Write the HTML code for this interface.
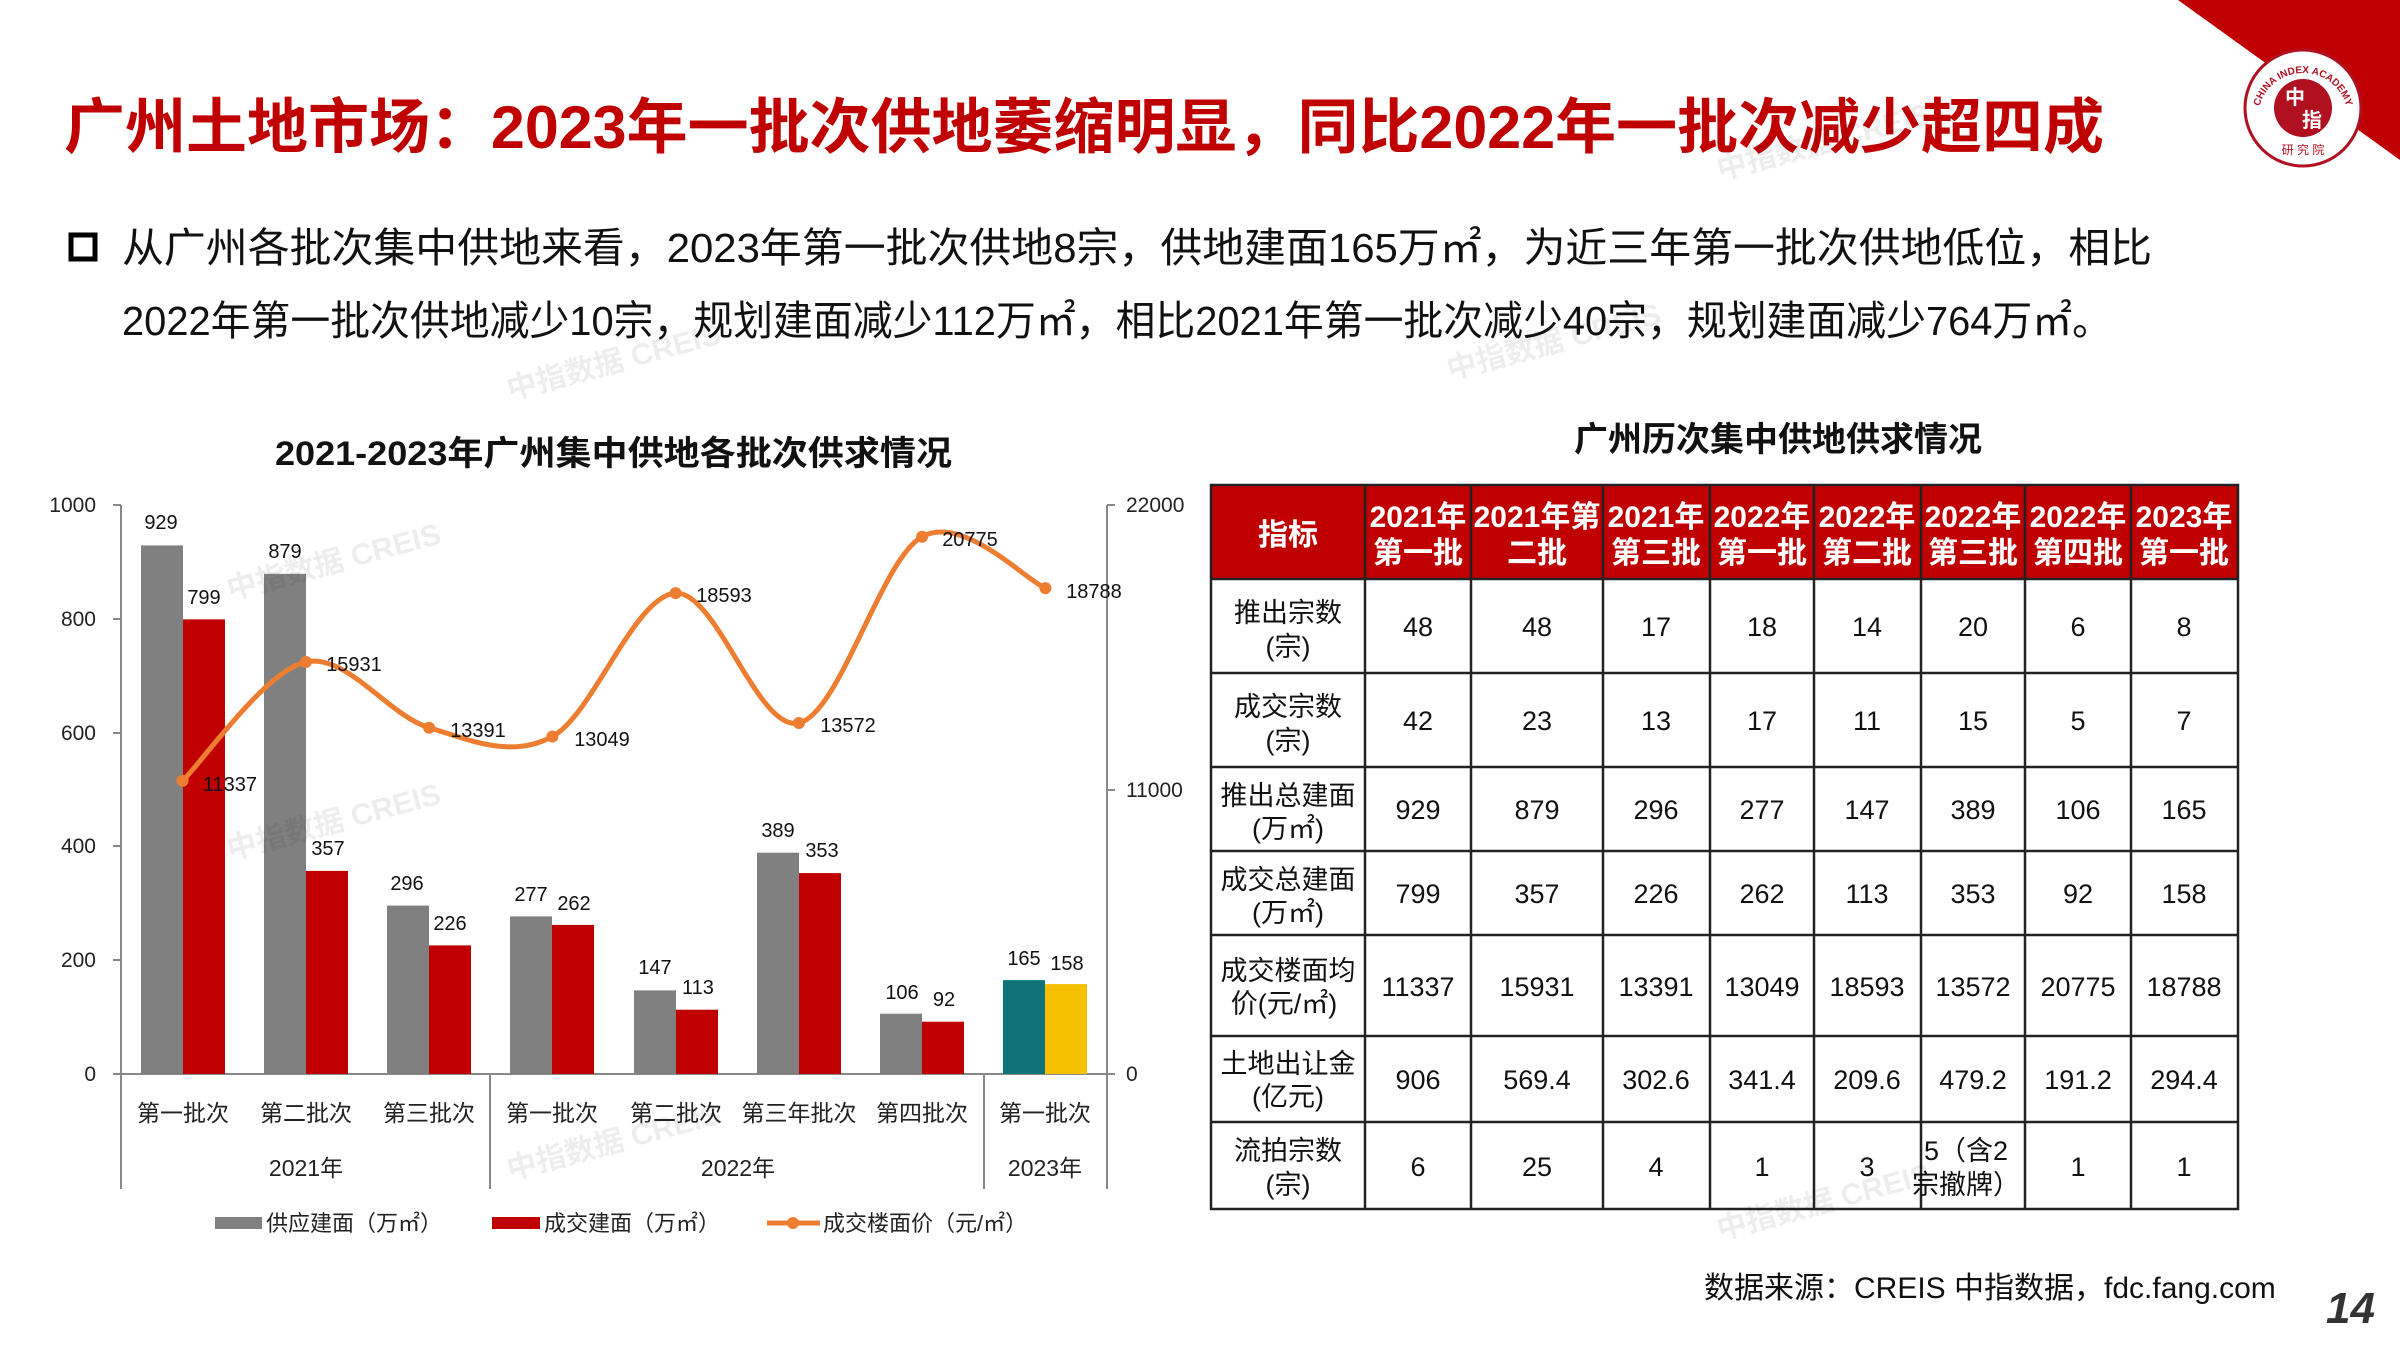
<!DOCTYPE html>
<html><head><meta charset="utf-8">
<style>
html,body{margin:0;padding:0;background:#fff;}
svg{display:block;}
text{font-family:"Liberation Sans","Noto Sans CJK SC",sans-serif;}
</style></head>
<body>
<svg width="2400" height="1350" viewBox="0 0 2400 1350" xmlns="http://www.w3.org/2000/svg">
<defs><path id="arc" d="M2258,118 A45,45 0 0 1 2348,118"/></defs>
<!-- corner -->
<polygon points="2178,0 2400,0 2400,160" fill="#c00000"/>
<circle cx="2303" cy="108" r="58" fill="#fff" stroke="#b01020" stroke-width="3"/>
<circle cx="2303" cy="108" r="29" fill="#b01020"/>
<text x="2295" y="104" font-size="20" fill="#fff" text-anchor="middle" font-weight="bold">中</text>
<text x="2312" y="127" font-size="20" fill="#fff" text-anchor="middle" font-weight="bold">指</text>
<text x="2303" y="154" font-size="12" fill="#b01020" text-anchor="middle">研 究 院</text>
<text font-size="10" fill="#b01020" font-family="Liberation Serif" font-weight="bold"><textPath href="#arc" startOffset="50%" text-anchor="middle">CHINA INDEX ACADEMY</textPath></text>

<!-- title -->
<text x="64" y="148" font-size="60" font-weight="bold" fill="#c00000" textLength="2040" lengthAdjust="spacingAndGlyphs">广州土地市场：2023年一批次供地萎缩明显，同比2022年一批次减少超四成</text>
<rect x="71" y="235" width="24" height="24" fill="none" stroke="#000" stroke-width="5"/>
<text x="122" y="262" font-size="41" fill="#111" textLength="2030" lengthAdjust="spacingAndGlyphs">从广州各批次集中供地来看，2023年第一批次供地8宗，供地建面165万㎡，为近三年第一批次供地低位，相比</text>
<text x="122" y="335" font-size="41" fill="#111" textLength="1990" lengthAdjust="spacingAndGlyphs">2022年第一批次供地减少10宗，规划建面减少112万㎡，相比2021年第一批次减少40宗，规划建面减少764万㎡。</text>

<!-- chart title -->
<text x="275" y="465" font-size="34" font-weight="bold" fill="#111" textLength="677" lengthAdjust="spacingAndGlyphs">2021-2023年广州集中供地各批次供求情况</text>

<!-- axes -->
<g stroke="#888" stroke-width="2" fill="none">
<line x1="121" y1="505" x2="121" y2="1189"/>
<line x1="1107" y1="505" x2="1107" y2="1189"/>
<line x1="121" y1="1074" x2="1107" y2="1074"/>
<line x1="490" y1="1074" x2="490" y2="1189"/>
<line x1="984" y1="1074" x2="984" y2="1189"/>
<line x1="113" y1="505" x2="121" y2="505"/><line x1="113" y1="619" x2="121" y2="619"/><line x1="113" y1="733" x2="121" y2="733"/><line x1="113" y1="846" x2="121" y2="846"/><line x1="113" y1="960" x2="121" y2="960"/><line x1="113" y1="1074" x2="121" y2="1074"/>
<line x1="1107" y1="505" x2="1115" y2="505"/><line x1="1107" y1="790" x2="1115" y2="790"/><line x1="1107" y1="1074" x2="1115" y2="1074"/>
</g>
<g font-size="21" fill="#222" text-anchor="end">
<text x="96" y="512">1000</text><text x="96" y="626">800</text><text x="96" y="740">600</text><text x="96" y="853">400</text><text x="96" y="967">200</text><text x="96" y="1081">0</text>
</g>
<g font-size="21" fill="#222">
<text x="1126" y="512">22000</text><text x="1126" y="797">11000</text><text x="1126" y="1081">0</text>
</g>

<!-- bars -->
<g fill="#808080">
<rect x="141" y="545.4" width="42" height="528.6"/>
<rect x="264" y="573.8" width="42" height="500.2"/>
<rect x="387" y="905.6" width="42" height="168.4"/>
<rect x="510" y="916.4" width="42" height="157.6"/>
<rect x="634" y="990.4" width="42" height="83.6"/>
<rect x="757" y="852.7" width="42" height="221.3"/>
<rect x="880" y="1013.7" width="42" height="60.3"/>
</g>
<rect x="1003" y="980.1" width="42" height="93.9" fill="#0e7479"/>
<g fill="#c00000">
<rect x="183" y="619.4" width="42" height="454.6"/>
<rect x="306" y="870.9" width="42" height="203.1"/>
<rect x="429" y="945.4" width="42" height="128.6"/>
<rect x="552" y="924.9" width="42" height="149.1"/>
<rect x="676" y="1009.7" width="42" height="64.3"/>
<rect x="799" y="873.1" width="42" height="200.9"/>
<rect x="922" y="1021.7" width="42" height="52.3"/>
</g>
<rect x="1045" y="984.1" width="42" height="89.9" fill="#f5c000"/>

<!-- line -->
<path d="M182.6,780.8 C203.1,761.0 264.8,670.9 305.9,662.0 C347.0,653.2 388.0,715.3 429.1,727.7 C470.2,740.1 511.3,758.9 552.4,736.5 C593.5,714.1 634.5,595.4 675.6,593.1 C716.7,590.85 757.8,732.4 798.9,723.0 C840.0,713.6 881.0,559.2 922.1,536.7 C963.2,514.2 1024.9,579.5 1045.4,588.1" fill="none" stroke="#ed7d31" stroke-width="5"/>
<g fill="#ed7d31">
<circle cx="182.6" cy="780.8" r="6"/><circle cx="305.9" cy="662" r="6"/><circle cx="429.1" cy="727.7" r="6"/><circle cx="552.4" cy="736.5" r="6"/><circle cx="675.6" cy="593.1" r="6"/><circle cx="798.9" cy="723" r="6"/><circle cx="922.1" cy="536.7" r="6"/><circle cx="1045.4" cy="588.1" r="6"/>
</g>

<!-- data labels -->
<g font-size="20" fill="#111" text-anchor="middle">
<text x="161" y="529">929</text><text x="204" y="604">799</text>
<text x="285" y="558">879</text><text x="328" y="855">357</text>
<text x="407" y="890">296</text><text x="450" y="930">226</text>
<text x="531" y="901">277</text><text x="574" y="910">262</text>
<text x="655" y="974">147</text><text x="698" y="994">113</text>
<text x="778" y="837">389</text><text x="822" y="857">353</text>
<text x="902" y="999">106</text><text x="944" y="1006">92</text>
<text x="1024" y="965">165</text><text x="1067" y="970">158</text>
<text x="230" y="791">11337</text><text x="354" y="671">15931</text>
<text x="478" y="737">13391</text><text x="602" y="746">13049</text>
<text x="724" y="602">18593</text><text x="848" y="732">13572</text>
<text x="970" y="546">20775</text><text x="1094" y="598">18788</text>
</g>

<!-- category labels -->
<g font-size="23" fill="#222" text-anchor="middle">
<text x="183" y="1121">第一批次</text><text x="306" y="1121">第二批次</text><text x="429" y="1121">第三批次</text>
<text x="552" y="1121">第一批次</text><text x="676" y="1121">第二批次</text><text x="799" y="1121">第三年批次</text><text x="922" y="1121">第四批次</text>
<text x="1045" y="1121">第一批次</text>
<text x="306" y="1176">2021年</text><text x="738" y="1176">2022年</text><text x="1045" y="1176">2023年</text>
</g>

<!-- legend -->
<rect x="215" y="1217" width="47" height="12" fill="#808080"/>
<text x="266" y="1231" font-size="22" fill="#222">供应建面（万㎡）</text>
<rect x="492" y="1217" width="48" height="12" fill="#c00000"/>
<text x="544" y="1231" font-size="22" fill="#222">成交建面（万㎡）</text>
<line x1="767" y1="1223" x2="820" y2="1223" stroke="#ed7d31" stroke-width="5"/>
<circle cx="793" cy="1223" r="6" fill="#ed7d31"/>
<text x="823" y="1231" font-size="22" fill="#222">成交楼面价（元/㎡）</text>

<!-- table -->
<text x="1778" y="451" font-size="34" font-weight="bold" fill="#111" text-anchor="middle">广州历次集中供地供求情况</text>
<rect x="1211" y="485" width="1027" height="94" fill="#c00000"/>
<g stroke="#222" stroke-width="2.5" fill="none">
<rect x="1211" y="485" width="1027" height="724"/>
<line x1="1211" y1="579" x2="2238" y2="579"/>
<line x1="1211" y1="673" x2="2238" y2="673"/>
<line x1="1211" y1="767" x2="2238" y2="767"/>
<line x1="1211" y1="851" x2="2238" y2="851"/>
<line x1="1211" y1="935" x2="2238" y2="935"/>
<line x1="1211" y1="1036" x2="2238" y2="1036"/>
<line x1="1211" y1="1122" x2="2238" y2="1122"/>
<line x1="1365" y1="485" x2="1365" y2="1209"/>
<line x1="1471" y1="485" x2="1471" y2="1209"/>
<line x1="1603" y1="485" x2="1603" y2="1209"/>
<line x1="1710" y1="485" x2="1710" y2="1209"/>
<line x1="1814" y1="485" x2="1814" y2="1209"/>
<line x1="1921" y1="485" x2="1921" y2="1209"/>
<line x1="2025" y1="485" x2="2025" y2="1209"/>
<line x1="2131" y1="485" x2="2131" y2="1209"/>
</g>
<g font-size="30" font-weight="bold" fill="#fff" text-anchor="middle">
<text x="1288" y="545">指标</text>
<text x="1418" y="527">2021年</text><text x="1418" y="563">第一批</text>
<text x="1537" y="527">2021年第</text><text x="1537" y="563">二批</text>
<text x="1656" y="527">2021年</text><text x="1656" y="563">第三批</text>
<text x="1762" y="527">2022年</text><text x="1762" y="563">第一批</text>
<text x="1867" y="527">2022年</text><text x="1867" y="563">第二批</text>
<text x="1973" y="527">2022年</text><text x="1973" y="563">第三批</text>
<text x="2078" y="527">2022年</text><text x="2078" y="563">第四批</text>
<text x="2184" y="527">2023年</text><text x="2184" y="563">第一批</text>
</g>
<g font-size="27" fill="#111" text-anchor="middle">
<text x="1288" y="622">推出宗数</text><text x="1288" y="656">(宗)</text>
<text x="1288" y="716">成交宗数</text><text x="1288" y="750">(宗)</text>
<text x="1288" y="805">推出总建面</text><text x="1288" y="838">(万㎡)</text>
<text x="1288" y="889">成交总建面</text><text x="1288" y="922">(万㎡)</text>
<text x="1288" y="980">成交楼面均</text><text x="1284" y="1013">价(元/㎡)</text>
<text x="1288" y="1073">土地出让金</text><text x="1288" y="1106">(亿元)</text>
<text x="1288" y="1160">流拍宗数</text><text x="1288" y="1194">(宗)</text>
</g>
<g font-size="27" fill="#111" text-anchor="middle">
<g transform="translate(0,636)"><text x="1418">48</text><text x="1537">48</text><text x="1656">17</text><text x="1762">18</text><text x="1867">14</text><text x="1973">20</text><text x="2078">6</text><text x="2184">8</text></g>
<g transform="translate(0,730)"><text x="1418">42</text><text x="1537">23</text><text x="1656">13</text><text x="1762">17</text><text x="1867">11</text><text x="1973">15</text><text x="2078">5</text><text x="2184">7</text></g>
<g transform="translate(0,819)"><text x="1418">929</text><text x="1537">879</text><text x="1656">296</text><text x="1762">277</text><text x="1867">147</text><text x="1973">389</text><text x="2078">106</text><text x="2184">165</text></g>
<g transform="translate(0,903)"><text x="1418">799</text><text x="1537">357</text><text x="1656">226</text><text x="1762">262</text><text x="1867">113</text><text x="1973">353</text><text x="2078">92</text><text x="2184">158</text></g>
<g transform="translate(0,996)"><text x="1418">11337</text><text x="1537">15931</text><text x="1656">13391</text><text x="1762">13049</text><text x="1867">18593</text><text x="1973">13572</text><text x="2078">20775</text><text x="2184">18788</text></g>
<g transform="translate(0,1089)"><text x="1418">906</text><text x="1537">569.4</text><text x="1656">302.6</text><text x="1762">341.4</text><text x="1867">209.6</text><text x="1973">479.2</text><text x="2078">191.2</text><text x="2184">294.4</text></g>
<g transform="translate(0,1176)"><text x="1418">6</text><text x="1537">25</text><text x="1656">4</text><text x="1762">1</text><text x="1867">3</text><text x="2078">1</text><text x="2184">1</text></g>
<text x="1966" y="1160">5（含2</text><text x="1966" y="1194">宗撤牌）</text>
</g>

<!-- footer -->
<text x="1704" y="1298" font-size="30" fill="#111">数据来源：CREIS 中指数据，fdc.fang.com</text>
<text x="2326" y="1323" font-size="44" font-weight="bold" font-style="italic" fill="#333">14</text>

<!-- watermarks -->
<g font-size="30" fill="#000" fill-opacity="0.07" font-weight="bold">
<text x="510" y="400" transform="rotate(-15 510 400)">中指数据 CREIS</text>
<text x="230" y="600" transform="rotate(-15 230 600)">中指数据 CREIS</text>
<text x="230" y="860" transform="rotate(-15 230 860)">中指数据 CREIS</text>
<text x="510" y="1180" transform="rotate(-15 510 1180)">中指数据 CREIS</text>
<text x="1720" y="180" transform="rotate(-15 1720 180)">中指数据 CREIS</text>
<text x="1450" y="380" transform="rotate(-15 1450 380)">中指数据 CREIS</text>
<text x="1720" y="1240" transform="rotate(-15 1720 1240)">中指数据 CREIS</text>
</g>
</svg>
</body></html>
